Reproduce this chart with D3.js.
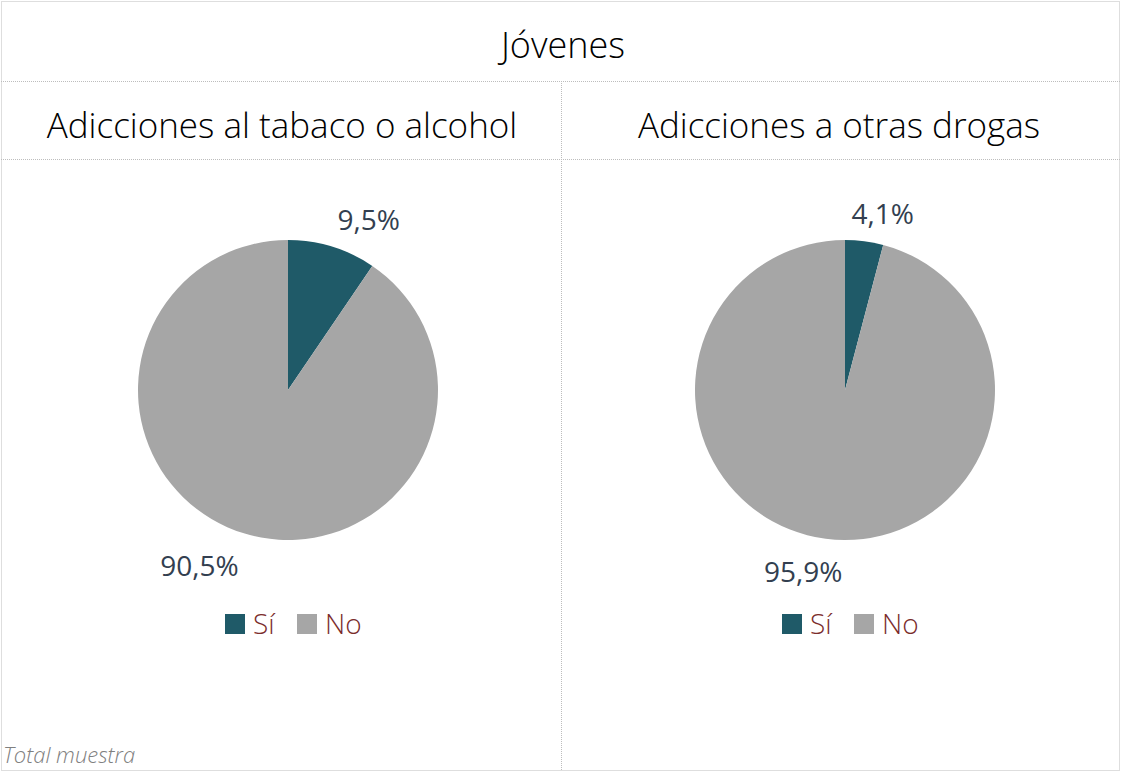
<!DOCTYPE html>
<html>
<head>
<meta charset="utf-8">
<script src="https://cdn.jsdelivr.net/npm/d3@7"></script>
<style>
  body { margin: 0; background: #fff; }
  svg { display: block; font-family: "Open Sans", "Segoe UI", sans-serif; }
</style>
</head>
<body>
<div id="chart"></div>
<script>
// data
const mainTitle = "Jóvenes";
const categories = ["Sí", "No"];
const panelTitles = ["Adicciones al tabaco o alcohol", "Adicciones a otras drogas"];
const tabacoAlcohol = [9.5, 90.5];
const otrasDrogas = [4.1, 95.9];
const footnote = "Total muestra";

const W = 1122, H = 772;
const colors = d3.scaleOrdinal().domain(categories).range(["#1f5a68", "#a6a6a6"]);
const es = d3.formatLocale({ decimal: ",", thousands: ".", grouping: [3], currency: ["", " €"] });
const fmt = d => es.format(".1f")(d) + "%";

const svg = d3.select("#chart").append("svg")
  .attr("width", W).attr("height", H);

// dotted grid lines
const grid = svg.append("g")
  .attr("stroke", "#bdbdbd").attr("stroke-dasharray", "1,1").attr("fill", "none");
grid.append("rect").attr("x", 1.5).attr("y", 1.5).attr("width", W - 4).attr("height", H - 3);
grid.append("line").attr("x1", 1).attr("x2", W - 2).attr("y1", 81.5).attr("y2", 81.5);
grid.append("line").attr("x1", 1).attr("x2", W - 2).attr("y1", 159.5).attr("y2", 159.5);
grid.append("line").attr("x1", 561.5).attr("x2", 561.5).attr("y1", 81).attr("y2", H - 1);

svg.append("text")
  .attr("x", 563).attr("y", 58)
  .attr("text-anchor", "middle")
  .attr("font-size", 36).attr("font-weight", 300).attr("fill", "#000")
  .text(mainTitle);

const radius = 150;
const labelR = 168;
const pie = d3.pie().sort(null).value(d => d.value);
const arc = d3.arc().innerRadius(0).outerRadius(radius);
const clamp = v => Math.max(-1, Math.min(1, v));

const panels = [
  { title: panelTitles[0], values: tabacoAlcohol, cx: 288 },
  { title: panelTitles[1], values: otrasDrogas, cx: 845 }
];

panels.forEach(p => {
  svg.append("text")
    .attr("x", p.cx - 6).attr("y", 138)
    .attr("text-anchor", "middle")
    .attr("font-size", 35).attr("font-weight", 300).attr("fill", "#000")
    .text(p.title);

  const g = svg.append("g").attr("transform", `translate(${p.cx},390)`);
  const rows = categories.map((c, i) => ({ cat: c, value: p.values[i] }));
  const arcs = pie(rows);

  g.selectAll("path").data(arcs).join("path")
    .attr("d", arc)
    .attr("fill", d => colors(d.data.cat));

  // outside-end labels: the label box is pushed away from the anchor point on the mid angle
  g.selectAll("text").data(arcs).join("text")
    .attr("text-anchor", "middle")
    .attr("font-size", 28).attr("fill", "#333f50")
    .text(d => fmt(d.data.value))
    .each(function (d) {
      const a = (d.startAngle + d.endAngle) / 2;
      const w = this.getComputedTextLength();
      const cx = labelR * Math.sin(a) + (w / 2) * clamp(4 * Math.sin(a));
      const cy = -labelR * Math.cos(a) - 12 * clamp(4 * Math.cos(a)) + 3;
      d3.select(this).attr("x", cx).attr("y", cy + 10);
    });

  // legend
  const lg = svg.append("g").attr("transform", `translate(${p.cx - 63},614)`);
  const offsets = [0, 72];
  categories.forEach((c, i) => {
    lg.append("rect")
      .attr("x", offsets[i]).attr("y", 0)
      .attr("width", 20).attr("height", 20)
      .attr("fill", colors(c));
    lg.append("text")
      .attr("x", offsets[i] + 28).attr("y", 20)
      .attr("font-size", 28).attr("font-weight", 300).attr("fill", "#7b2c2c")
      .text(c);
  });
});

svg.append("text")
  .attr("x", 3).attr("y", 763)
  .attr("font-size", 22).attr("font-style", "italic").attr("font-weight", 300)
  .attr("fill", "#808080")
  .text(footnote);
</script>
</body>
</html>
